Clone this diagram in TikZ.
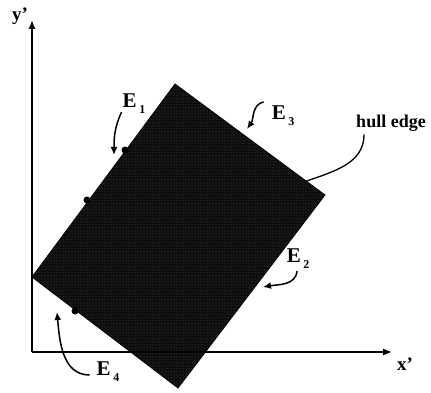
\documentclass[tikz,border=0pt]{standalone}
\usepackage{fontspec}
\setmainfont{Liberation Serif}
\usetikzlibrary{arrows.meta,patterns}
\newcommand{\elab}[1]{E\kern2.5pt\raisebox{-6pt}{\fontsize{12}{12}\selectfont #1}}
\tikzset{
  >=Latex,
  axis/.style={-{Latex[length=9pt,width=7pt]},line width=1.3pt,draw=black},
  hull/.style={fill=black!95,draw=black,line width=0.8pt},
  stipple/.style={pattern=dots,pattern color=black!65},
  vertex/.style={circle,fill=black,inner sep=0pt,minimum size=7pt},
  axislbl/.style={font=\fontsize{19}{20}\selectfont\bfseries,inner sep=0pt},
  edgelbl/.style={font=\fontsize{21}{21}\selectfont\bfseries,inner sep=0pt},
  textlbl/.style={font=\fontsize{18}{20}\selectfont\bfseries,inner sep=0pt},
  pointer/.style={-{Latex[length=8pt,width=7pt]},line width=1.5pt},
  leader/.style={line width=1.3pt}
}
\begin{document}
\begin{tikzpicture}[x=1pt,y=-1pt]
  \useasboundingbox (0,0) rectangle (431,393);

  % hull
  \coordinate (top) at (175,84);
  \coordinate (right) at (325,195);
  \coordinate (bottom) at (178,388);
  \coordinate (left) at (32,277);
  \fill[hull] (top) -- (right) -- (bottom) -- (left) -- cycle;
  \fill[stipple] (top) -- (right) -- (bottom) -- (left) -- cycle;
  \node[vertex] (p1) at (125,150) {};
  \node[vertex] (p2) at (87,200) {};
  \node[vertex] (p3) at (75,311) {};

  % axes
  \coordinate (origin) at (32,352);
  \coordinate (ytip) at (32,20);
  \coordinate (xtip) at (392,352);
  \draw[axis] (origin) -- (ytip);
  \draw[axis] (origin) -- (xtip);
  \node[axislbl] (ylbl) at (20,16) {y'};
  \node[axislbl] (xlbl) at (405,364) {x'};

  % labels
  \node[edgelbl] (e1) at (134,104) {\elab{1}};
  \node[edgelbl] (e3) at (283,116) {\elab{3}};
  \node[edgelbl] (e2) at (298,259) {\elab{2}};
  \node[edgelbl] (e4) at (108,372) {\elab{4}};
  \node[textlbl] (hulllbl) at (391,123) {hull edge};

  % pointers
  \coordinate (t1) at (114,155);
  \coordinate (t3) at (247,129);
  \coordinate (t2) at (263,287);
  \coordinate (t4) at (57,312);
  \coordinate (th) at (304,182);
  \draw[pointer] ([xshift=-1pt,yshift=2pt]e1.south west) to[out=-115,in=90] (t1);
  \draw[pointer] ([xshift=-8pt,yshift=4pt]e3.north west) to[out=195,in=55] (t3);
  \draw[pointer] ([xshift=-1pt,yshift=-2pt]e2.south) to[out=-95,in=10] (t2);
  \draw[pointer] ([xshift=-7pt,yshift=-3pt]e4.west) to[out=180,in=-85] (t4);
  \draw[leader] ([xshift=8pt,yshift=-3pt]hulllbl.south west) to[out=-90,in=20] (th);
\end{tikzpicture}
\end{document}
